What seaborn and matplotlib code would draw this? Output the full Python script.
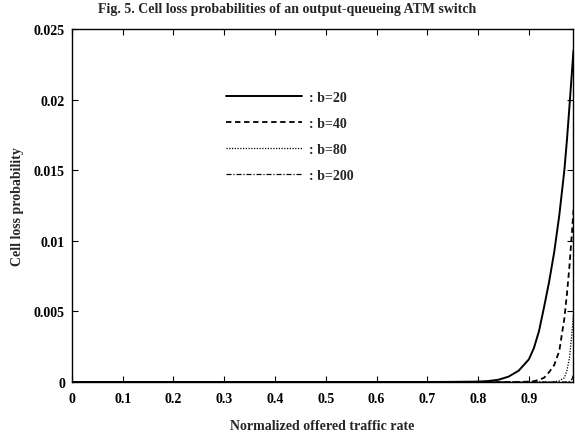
import matplotlib
matplotlib.use("Agg")
import matplotlib.pyplot as plt
import seaborn as sns
import pandas as pd
from matplotlib.lines import Line2D

# ---- data ----
rate = [0.0, 0.1, 0.2, 0.3, 0.4, 0.5, 0.6, 0.7, 0.75, 0.8, 0.82, 0.84, 0.86, 0.88,
        0.90, 0.91, 0.92, 0.93, 0.94, 0.95, 0.96, 0.97, 0.975, 0.98, 0.985, 0.988]
b20 = [0, 0, 0, 0, 0, 0, 0, 0.000002, 0.00001, 0.00003, 0.00007, 0.00016, 0.00038, 0.0008,
       0.0016, 0.0024, 0.0036, 0.0053, 0.0071, 0.0092, 0.0118, 0.0150, 0.0171, 0.0195, 0.022, 0.0235]
b40 = [0, 0, 0, 0, 0, 0, 0, 0, 0, 0, 0, 0, 0, 0,
       0.00003, 0.00006, 0.00015, 0.0003, 0.0007, 0.0012, 0.0022, 0.0045, 0.0062, 0.0082, 0.0106, 0.0122]
b80 = [0, 0, 0, 0, 0, 0, 0, 0, 0, 0, 0, 0, 0, 0,
       0, 0, 0, 0, 0.000005, 0.00002, 0.00008, 0.0003, 0.0008, 0.0017, 0.0035, 0.0048]
b200 = [0, 0, 0, 0, 0, 0, 0, 0, 0, 0, 0, 0, 0, 0,
        0, 0, 0, 0, 0, 0, 0, 0, 0.000002, 0.00002, 0.0002, 0.0005]
series_names = ["b=20", "b=40", "b=80", "b=200"]
x_ticks = [0, 0.1, 0.2, 0.3, 0.4, 0.5, 0.6, 0.7, 0.8, 0.9]
x_tick_labels = ["0", "0.1", "0.2", "0.3", "0.4", "0.5", "0.6", "0.7", "0.8", "0.9"]
y_ticks = [0, 0.005, 0.01, 0.015, 0.02, 0.025]
y_tick_labels = ["0", "0.005", "0.01", "0.015", "0.02", "0.025"]

rows = []
for name, vals in zip(series_names, [b20, b40, b80, b200]):
    for xv, yv in zip(rate, vals):
        rows.append({"rate": xv, "p": yv, "b": name})
df = pd.DataFrame(rows)

sns.set_theme(style="ticks")
plt.rcParams["font.family"] = ["Liberation Serif", "DejaVu Serif"]
plt.rcParams["font.weight"] = "bold"

fig = plt.figure(figsize=(5.75, 4.35), dpi=100)
ax = fig.add_axes([0.125, 0.1195, 0.8715, 0.8115])

dash_map = {"b=20": "", "b=40": (3, 2), "b=80": (1, 1.2), "b=200": (4, 1.5, 1, 1.5)}
width_map = {"b=20": 1.4, "b=40": 1.3, "b=80": 0.9, "b=200": 0.9}
for name in series_names:
    sub = df[df["b"] == name]
    sns.lineplot(data=sub, x="rate", y="p", ax=ax, color="black",
                 lw=width_map[name], legend=False, estimator=None, sort=False,
                 dashes=False)
    line = ax.get_lines()[-1]
    if dash_map[name]:
        line.set_dashes(dash_map[name])

ax.set_xlim(0, 0.987)
ax.set_ylim(0, 0.025)
ax.set_xticks(x_ticks)
ax.set_xticklabels(x_tick_labels)
ax.set_yticks(y_ticks)
ax.set_yticklabels(y_tick_labels)
ax.tick_params(direction="in", top=True, right=True, length=4, width=0.8,
               labelsize=10, colors="black", pad=5)
ax.tick_params(axis="x", pad=7)
for s in ax.spines.values():
    s.set_linewidth(1.0)
    s.set_color("black")
    s.set_visible(True)

ax.set_xlabel("Normalized offered traffic rate", fontsize=10, labelpad=10,
              fontweight="bold")
ax.set_ylabel("Cell loss probability", fontsize=10, labelpad=7,
              fontweight="bold")
fig.suptitle("Fig. 5. Cell loss probabilities of an output-queueing ATM switch",
             fontsize=10, fontweight="bold", y=0.992)

handles = []
for name in series_names:
    h = Line2D([], [], color="black", lw=width_map[name])
    if dash_map[name]:
        h.set_dashes(dash_map[name])
    handles.append(h)
ax.legend(handles, [": " + n for n in series_names], loc="upper left",
          bbox_to_anchor=(220 / 575, 1 - 86 / 435), bbox_transform=fig.transFigure,
          frameon=False, handlelength=5.5, handletextpad=0.5, labelspacing=0.95,
          fontsize=10, borderaxespad=0)

fig.savefig("out.png", dpi=100)
